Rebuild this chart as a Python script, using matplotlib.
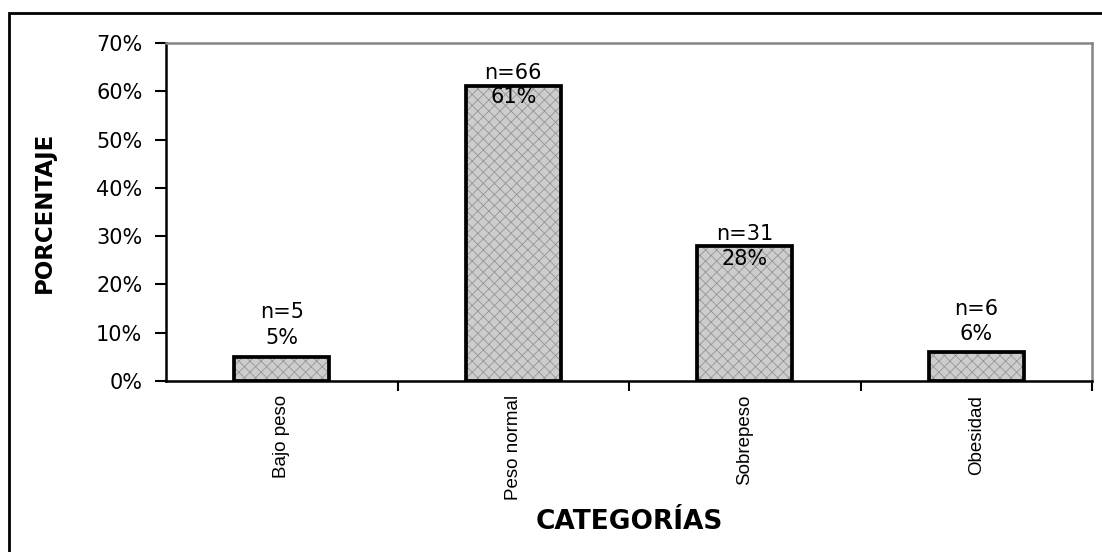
import matplotlib
matplotlib.use("Agg")
import matplotlib.pyplot as plt
from matplotlib.patches import Rectangle
from matplotlib.ticker import FixedLocator, PercentFormatter

categorias = ["Bajo peso", "Peso normal", "Sobrepeso", "Obesidad"]
n_casos = [5, 66, 31, 6]
porcentaje = [5, 61, 28, 6]

# pixel offsets of the two label lines above each bar top
off_n = [45, 13, 12, 43]
off_pct = [19, -11, -13, 18]

plt.rcParams["hatch.linewidth"] = 0.6

fig = plt.figure(figsize=(11.02, 5.52), dpi=100)
ax = fig.add_axes([166 / 1102, 1 - 381 / 552, 926 / 1102, 338 / 552])

x = range(len(categorias))
# hatched fill first, then the heavy black outline on top
ax.bar(x, porcentaje, width=0.41, color="#cdcdcd", edgecolor="#959595",
       hatch="xxx", linewidth=0, zorder=2)
ax.bar(x, porcentaje, width=0.41, fill=False, edgecolor="black",
       linewidth=2.7, zorder=3)

for i, (n, p) in enumerate(zip(n_casos, porcentaje)):
    ax.annotate(f"n={n}", (i, p), xytext=(0, off_n[i]), textcoords="offset pixels",
                ha="center", va="center", fontsize=15, family="DejaVu Sans", zorder=4)
    ax.annotate(f"{p}%", (i, p), xytext=(0, off_pct[i]), textcoords="offset pixels",
                ha="center", va="center", fontsize=15, family="DejaVu Sans", zorder=4)

ax.set_xlim(-0.5, len(categorias) - 0.5)
ax.set_ylim(0, 70)
ax.yaxis.set_major_locator(FixedLocator(range(0, 71, 10)))
ax.yaxis.set_major_formatter(PercentFormatter(decimals=0))
ax.tick_params(axis="y", direction="out", length=8, width=1.5, pad=9,
               labelsize=15)
for lbl in ax.get_yticklabels():
    lbl.set_family("DejaVu Sans")

ax.set_xticks(list(x))
ax.set_xticklabels(categorias, rotation=90, fontsize=13.5, family="Liberation Sans",
                   va="top", ha="center")
ax.xaxis.set_minor_locator(FixedLocator([0.5, 1.5, 2.5, 3.5]))
ax.tick_params(axis="x", which="major", length=0, pad=10)
ax.tick_params(axis="x", which="minor", direction="out", length=7, width=1.5)

for side in ["left", "bottom"]:
    ax.spines[side].set_color("black")
    ax.spines[side].set_linewidth(1.8)
for side in ["top", "right"]:
    ax.spines[side].set_color("#858585")
    ax.spines[side].set_linewidth(1.8)

ax.set_ylabel("PORCENTAJE", fontsize=16.5, fontweight="bold", family="DejaVu Sans",
              va="center")
ax.yaxis.set_label_coords(-0.1317, 0.5)
ax.set_xlabel("CATEGORÍAS", fontsize=19, fontweight="bold", family="DejaVu Sans",
              va="center")
ax.xaxis.set_label_coords(0.5, -0.417)

# outer frame of the chart area, running off the right and bottom edges
top = 1 - 13 / 552
fig.patches.append(Rectangle((9 / 1102, -0.1), 1.2, top + 0.1,
                             transform=fig.transFigure, fill=False,
                             edgecolor="black", linewidth=2, clip_on=False))

fig.savefig("out.png", dpi=100)
